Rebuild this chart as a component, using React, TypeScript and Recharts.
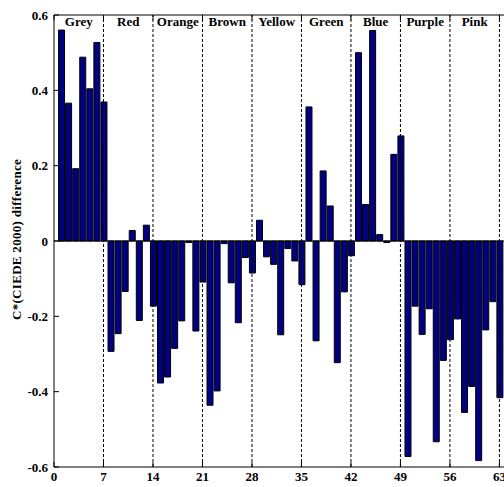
import { BarChart, Bar, XAxis, YAxis, ReferenceLine, ReferenceArea } from 'recharts';

// bar positions 1..63, seven samples per colour group
const positions = [
  1, 2, 3, 4, 5, 6, 7, 8, 9, 10, 11, 12, 13, 14, 15, 16, 17, 18, 19, 20, 21,
  22, 23, 24, 25, 26, 27, 28, 29, 30, 31, 32, 33, 34, 35, 36, 37, 38, 39, 40, 41, 42,
  43, 44, 45, 46, 47, 48, 49, 50, 51, 52, 53, 54, 55, 56, 57, 58, 59, 60, 61, 62, 63,
];

const diffs = [
  0.56, 0.366, 0.192, 0.488, 0.404, 0.527, 0.369, // Grey
  -0.293, -0.246, -0.134, 0.028, -0.211, 0.042, -0.173, // Red
  -0.377, -0.361, -0.285, -0.212, -0.004, -0.239, -0.109, // Orange
  -0.436, -0.398, -0.007, -0.111, -0.217, -0.044, -0.085, // Brown
  0.055, -0.042, -0.062, -0.249, -0.02, -0.053, -0.116, // Yellow
  0.356, -0.265, 0.186, 0.093, -0.323, -0.135, -0.039, // Green
  0.5, 0.097, 0.559, 0.017, -0.004, 0.23, 0.279, // Blue
  -0.572, -0.173, -0.248, -0.18, -0.533, -0.317, -0.262, // Purple
  -0.207, -0.455, -0.386, -0.583, -0.236, -0.161, -0.416, // Pink
];

const groups = ['Grey', 'Red', 'Orange', 'Brown', 'Yellow', 'Green', 'Blue', 'Purple', 'Pink'];
const xTicks = [0, 7, 14, 21, 28, 35, 42, 49, 56, 63];
const yTicks = [-0.6, -0.4, -0.2, 0, 0.2, 0.4, 0.6];

const data = positions.map((p, i) => ({ pos: p, diff: diffs[i] }));

const FONT = 'Liberation Serif, Times New Roman, serif';

const LeftTick = (props: any) => {
  const { x, y, payload } = props;
  return (
    <g>
      <line x1={x + 6} x2={x + 11} y1={y} y2={y} stroke="#000" />
      <text x={x} y={y} dy={4.5} textAnchor="end" fontFamily={FONT} fontWeight="bold" fontSize={13} fill="#000">
        {payload.value}
      </text>
    </g>
  );
};

const RightTick = (props: any) => {
  const { x, y } = props;
  return <line x1={x} x2={x - 5} y1={y} y2={y} stroke="#000" />;
};

const TopTick = (props: any) => {
  const { x, y } = props;
  return <line x1={x} x2={x} y1={y} y2={y + 5} stroke="#000" />;
};

const BottomTick = (props: any) => {
  const { x, y, payload } = props;
  return (
    <g>
      <line x1={x} x2={x} y1={y} y2={y - 5} stroke="#000" />
      <text x={x} y={y + 14} textAnchor="middle" fontFamily={FONT} fontWeight="bold" fontSize={13} fill="#000">
        {payload.value}
      </text>
    </g>
  );
};

export default function App() {
  return (
    <div style={{ position: 'absolute', left: 0, top: 0, width: 504, height: 487, overflow: 'hidden', background: '#fff' }}>
      <BarChart width={520} height={487} data={data} margin={{ top: 0, right: 0, bottom: 0, left: 0 }}>
        <XAxis
          dataKey="pos"
          type="number"
          domain={[0, 64]}
          ticks={xTicks}
          interval={0}
          allowDataOverflow
          height={20}
          tickSize={0}
          tickMargin={0}
          tick={<BottomTick />}
          axisLine={{ stroke: '#000' }}
        />
        <XAxis
          xAxisId="top"
          dataKey="pos"
          type="number"
          orientation="top"
          domain={[0, 64]}
          ticks={xTicks}
          interval={0}
          height={15}
          tickSize={0}
          tickMargin={0}
          tick={<TopTick />}
          axisLine={{ stroke: '#000' }}
        />
        <YAxis
          type="number"
          domain={[-0.6, 0.6]}
          ticks={yTicks}
          interval={0}
          width={54}
          tickSize={0}
          tickMargin={6}
          tick={<LeftTick />}
          axisLine={{ stroke: '#000' }}
          label={{
            value: 'C*(CIEDE 2000) difference',
            angle: -90,
            position: 'insideLeft',
            dx: 11,
            dy: 79,
            style: { fontFamily: FONT, fontWeight: 'bold', fontSize: 13, fill: '#000', letterSpacing: 0.3 },
          }}
        />
        <YAxis
          yAxisId="right"
          type="number"
          orientation="right"
          domain={[-0.6, 0.6]}
          ticks={yTicks}
          interval={0}
          width={13.5}
          tickSize={0}
          tickMargin={0}
          tick={<RightTick />}
          axisLine={{ stroke: '#000' }}
        />
        {groups.map((g, i) => (
          <ReferenceArea
            key={g}
            x1={i * 7}
            x2={i * 7 + 7}
            y1={0.5}
            y2={0.6}
            fill="none"
            fillOpacity={0}
            stroke="none"
            label={{
              value: g,
              position: 'insideTop',
              offset: 2,
              style: { fontFamily: FONT, fontWeight: 'bold', fontSize: 13, fill: '#000' },
            }}
          />
        ))}
        {xTicks.slice(1).map((t) => (
          <ReferenceLine key={t} x={t} stroke="#000" strokeDasharray="3 2" />
        ))}
        <Bar dataKey="diff" fill="#000080" stroke="#000" strokeWidth={1} barSize={6} isAnimationActive={false} />
        <ReferenceLine y={0} stroke="#000" />
      </BarChart>
    </div>
  );
}
